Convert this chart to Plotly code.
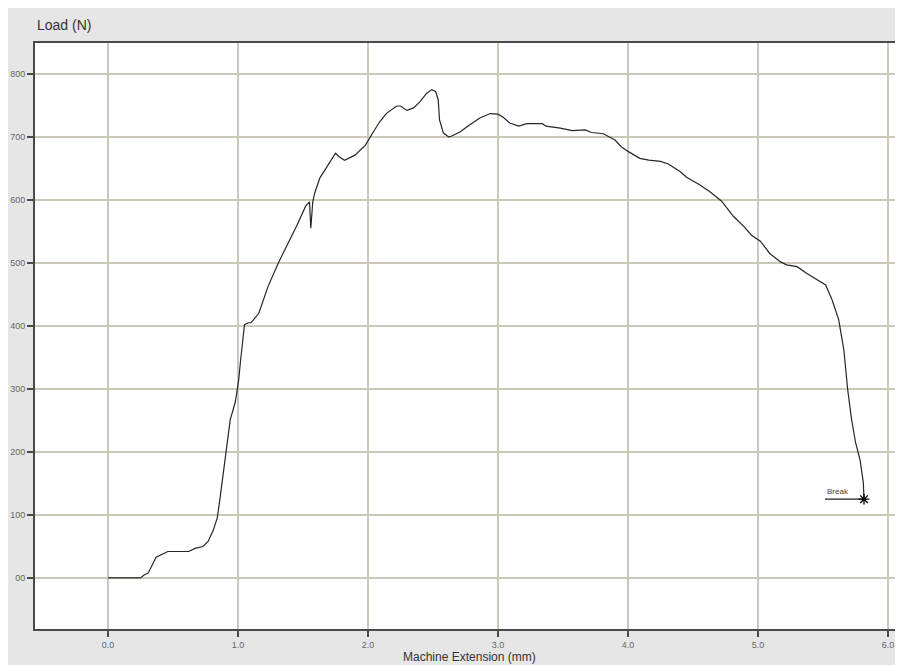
import plotly.graph_objects as go

# ---- data ----
extension_mm = [0, 0.25, 0.28, 0.31, 0.37, 0.46, 0.62, 0.67, 0.73, 0.77, 0.81, 0.84, 0.86, 0.90,
                0.94, 0.98, 1.005, 1.02, 1.05, 1.08, 1.10, 1.16, 1.23, 1.31, 1.39, 1.45, 1.52,
                1.55, 1.56, 1.575, 1.59, 1.63, 1.67, 1.71, 1.75, 1.78, 1.82, 1.90, 1.98, 2.05,
                2.09, 2.14, 2.22, 2.25, 2.30, 2.35, 2.40, 2.45, 2.49, 2.52, 2.54, 2.55, 2.58,
                2.62, 2.64, 2.71, 2.78, 2.86, 2.94, 3.00, 3.04, 3.09, 3.16, 3.22, 3.34, 3.37,
                3.48, 3.57, 3.67, 3.72, 3.81, 3.90, 3.95, 4.00, 4.09, 4.16, 4.25, 4.31, 4.40,
                4.45, 4.55, 4.63, 4.72, 4.81, 4.89, 4.95, 5.02, 5.09, 5.17, 5.22, 5.30, 5.37,
                5.45, 5.52, 5.57, 5.62, 5.66, 5.69, 5.72, 5.75, 5.785, 5.81, 5.815]
load_n = [0, 0, 5, 8, 33, 42, 42, 47, 50, 58, 76, 95, 124, 190,
          251, 280, 314, 346, 402, 405, 405, 420, 462, 500, 532, 558, 590,
          597, 555, 597, 611, 635, 648, 662, 674, 668, 663, 671, 687, 711,
          724, 737, 749, 749, 742, 746, 756, 769, 775, 772, 759, 727, 706,
          700, 701, 708, 719, 730, 737, 736, 731, 722, 717, 721, 721, 717,
          714, 710, 711, 707, 705, 695, 684, 677, 666, 663, 661, 657, 645,
          636, 624, 613, 598, 574, 558, 544, 534, 515, 502, 497, 494, 484,
          474, 465, 441, 410, 362, 298, 251, 215, 187, 151, 125]

break_x = 5.815
break_y = 125
break_label = "Break"
break_line_x = [5.515, 5.815]
break_line_y = [125, 125]

x_tickvals = [0, 1, 2, 3, 4, 5, 6]
x_ticktext = ["0.0", "1.0", "2.0", "3.0", "4.0", "5.0", "6.0"]
y_tickvals = [0, 100, 200, 300, 400, 500, 600, 700, 800]
y_ticktext = ["00", "100", "200", "300", "400", "500", "600", "700", "800"]

x_title = "Machine Extension (mm)"
y_title = "Load (N)"

FONT = "Liberation Sans, Arial, sans-serif"
GRID = "#cbc8ba"
FRAME = "#4a4a4a"

fig = go.Figure()
fig.add_trace(go.Scatter(x=extension_mm, y=load_n, mode="lines",
                         line=dict(color="#262626", width=1.2), hoverinfo="skip"))
fig.add_trace(go.Scatter(x=break_line_x, y=break_line_y, mode="lines",
                         line=dict(color="#222", width=1.2), hoverinfo="skip"))
fig.add_trace(go.Scatter(x=[break_x], y=[break_y], mode="markers",
                         marker=dict(symbol="asterisk-open", size=9, color="#000",
                                     line=dict(color="#000", width=1.3)),
                         hoverinfo="skip"))

fig.add_annotation(x=break_line_x[0], y=break_y, text=break_label, showarrow=False,
                   xanchor="left", yanchor="bottom", yshift=1,
                   font=dict(family=FONT, size=8, color="#444"))

fig.add_annotation(xref="paper", yref="paper", x=0, y=1.031, text=y_title,
                   showarrow=False, xanchor="left", yanchor="middle",
                   font=dict(family=FONT, size=14, color="#333"))
fig.add_annotation(xref="paper", yref="paper", x=0.5, y=-0.048, text=x_title,
                   showarrow=False, xanchor="center", yanchor="middle",
                   font=dict(family=FONT, size=12, color="#333"))

fig.update_layout(
    width=895, height=657,
    margin=dict(l=27, r=0, t=35, b=36),
    paper_bgcolor="#e6e6e6", plot_bgcolor="white",
    showlegend=False,
    font=dict(family=FONT, size=9, color="#666"),
)
fig.update_xaxes(range=[-0.5615, 6.115], tickvals=x_tickvals, ticktext=x_ticktext,
                 showgrid=True, gridcolor=GRID, gridwidth=1.5,
                 zeroline=False,
                 showline=True, linecolor=FRAME, linewidth=2, mirror=True,
                 ticks="outside", ticklen=6, tickcolor=FRAME, tickwidth=1.5,
                 tickfont=dict(family=FONT, size=9, color="#666"))
fig.update_yaxes(range=[-81, 849], tickvals=y_tickvals, ticktext=y_ticktext,
                 showgrid=True, gridcolor=GRID, gridwidth=1.5,
                 zeroline=False,
                 showline=True, linecolor=FRAME, linewidth=2, mirror=False,
                 ticks="outside", ticklen=6, tickcolor=FRAME, tickwidth=1.5,
                 tickfont=dict(family=FONT, size=9, color="#666"))

fig.write_html("out.html")
